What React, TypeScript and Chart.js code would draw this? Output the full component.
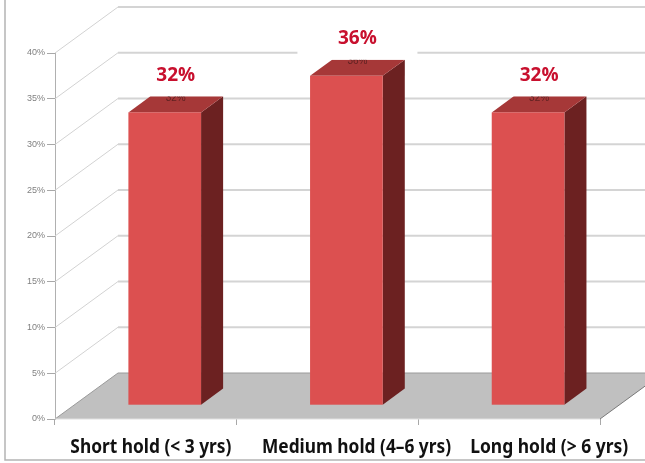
import React, { useEffect, useRef } from 'react';
import { Chart, registerables } from 'chart.js';

Chart.register(...registerables);

const categories = ['Short hold (< 3 yrs)', 'Medium hold (4–6 yrs)', 'Long hold (> 6 yrs)'];
const values = [32, 36, 32];
const valueLabels = ['32%', '36%', '32%'];
const yMin = 0;
const yMax = 40;
const yStep = 5;

// styling constants (3D oblique projection)
const DEPTH_X = 63;
const DEPTH_Y = 46;
const BAR_FRONT = 0.3;
const BAR_BACK = 0.65;
const LABEL_SHIFT = [5, 29, 40];
const LABEL_MAXW = [161, 189, 158];

const threeD = {
  id: 'threeD',
  beforeDatasetsDraw(chart: any) {
    const { ctx, chartArea, scales } = chart;
    const { left, right, bottom } = chartArea;
    const y = scales.y;
    ctx.save();
    // outer frame
    ctx.strokeStyle = '#b4b4b4';
    ctx.lineWidth = 1.5;
    ctx.beginPath();
    ctx.moveTo(5, 0);
    ctx.lineTo(5, 460);
    ctx.lineTo(chart.width, 460);
    ctx.stroke();
    // walls
    for (let v = yMin + yStep; v <= yMax; v += yStep) {
      const py = y.getPixelForValue(v);
      ctx.strokeStyle = '#d2d2d2';
      ctx.lineWidth = 1;
      ctx.beginPath();
      ctx.moveTo(left, py);
      ctx.lineTo(left + DEPTH_X, py - DEPTH_Y);
      ctx.stroke();
      ctx.lineWidth = 2;
      ctx.strokeStyle = '#d4d4d4';
      ctx.beginPath();
      ctx.moveTo(left + DEPTH_X, py - DEPTH_Y);
      ctx.lineTo(chart.width, py - DEPTH_Y);
      ctx.stroke();
    }
    // floor
    ctx.fillStyle = '#c0c0c0';
    ctx.beginPath();
    ctx.moveTo(left, bottom);
    ctx.lineTo(right, bottom);
    ctx.lineTo(right + DEPTH_X, bottom - DEPTH_Y);
    ctx.lineTo(left + DEPTH_X, bottom - DEPTH_Y);
    ctx.closePath();
    ctx.fill();
    ctx.strokeStyle = '#9a9a9a';
    ctx.lineWidth = 1;
    ctx.beginPath();
    ctx.moveTo(left, bottom);
    ctx.lineTo(left + DEPTH_X, bottom - DEPTH_Y);
    ctx.lineTo(chart.width, bottom - DEPTH_Y);
    ctx.stroke();
    ctx.strokeStyle = '#7a7a7a';
    ctx.beginPath();
    ctx.moveTo(right, bottom);
    ctx.lineTo(right + DEPTH_X, bottom - DEPTH_Y);
    ctx.stroke();
    ctx.strokeStyle = '#e0e0e0';
    ctx.beginPath();
    ctx.moveTo(left, bottom);
    ctx.lineTo(right, bottom);
    ctx.stroke();
    ctx.restore();
  },
  afterDatasetsDraw(chart: any) {
    const { ctx, chartArea } = chart;
    const meta = chart.getDatasetMeta(0);
    const fdx = DEPTH_X * BAR_FRONT;
    const fdy = DEPTH_Y * BAR_FRONT;
    const bdx = DEPTH_X * (BAR_BACK - BAR_FRONT);
    const bdy = DEPTH_Y * (BAR_BACK - BAR_FRONT);
    ctx.save();
    meta.data.forEach((el: any, i: number) => {
      const { x, y, base, width } = el.getProps(['x', 'y', 'base', 'width'], true);
      const x0 = x - width / 2 + fdx;
      const x1 = x + width / 2 + fdx;
      const top = y - fdy;
      const bot = base - fdy;
      // side
      ctx.fillStyle = '#6c2121';
      ctx.beginPath();
      ctx.moveTo(x1, top);
      ctx.lineTo(x1 + bdx, top - bdy);
      ctx.lineTo(x1 + bdx, bot - bdy);
      ctx.lineTo(x1, bot);
      ctx.closePath();
      ctx.fill();
      // top
      ctx.fillStyle = '#a63838';
      ctx.beginPath();
      ctx.moveTo(x0, top);
      ctx.lineTo(x1, top);
      ctx.lineTo(x1 + bdx, top - bdy);
      ctx.lineTo(x0 + bdx, top - bdy);
      ctx.closePath();
      ctx.fill();
      // front
      ctx.fillStyle = '#dc5050';
      ctx.fillRect(x0, top, x1 - x0, bot - top);

      const cx = x + (DEPTH_X * (BAR_FRONT + BAR_BACK)) / 2;
      const backTop = top - bdy;
      // faint original label, partly hidden
      ctx.font = '10px "Liberation Sans"';
      ctx.fillStyle = 'rgba(70,25,25,0.75)';
      ctx.textAlign = 'center';
      ctx.textBaseline = 'middle';
      ctx.fillText(valueLabels[i], cx, backTop + 2);
      // white label box
      ctx.fillStyle = '#ffffff';
      ctx.fillRect(cx - 60, backTop - 38, 120, 38);
      // value label
      ctx.font = 'bold 19px "Open Sans"';
      ctx.fillStyle = '#c8102e';
      ctx.fillText(valueLabels[i], cx, backTop - 21);
    });
    // category labels
    const xs = chart.scales.x;
    ctx.font = 'bold 19px "Noto Sans"';
    ctx.fillStyle = '#111111';
    ctx.textAlign = 'center';
    ctx.textBaseline = 'middle';
    categories.forEach((c, i) => {
      const px = xs.getPixelForValue(i) + LABEL_SHIFT[i];
      ctx.fillText(c, px, chartArea.bottom + 29, LABEL_MAXW[i]);
    });
    ctx.restore();
  },
};

export default function App() {
  const ref = useRef<HTMLCanvasElement | null>(null);
  useEffect(() => {
    document.body.style.margin = '0';
    if (!ref.current) return;
    const chart = new Chart(ref.current, {
      type: 'bar',
      data: {
        labels: categories,
        datasets: [
          {
            data: values,
            backgroundColor: 'rgba(0,0,0,0)',
            borderWidth: 0,
            barPercentage: 0.4,
            categoryPercentage: 1,
          },
        ],
      },
      options: {
        animation: false,
        responsive: false,
        devicePixelRatio: 1,
        layout: { padding: { left: 0, right: 45, top: 53, bottom: 0 } },
        plugins: { legend: { display: false }, tooltip: { enabled: false } },
        scales: {
          x: {
            afterFit: (s: any) => {
              s.height = 44;
            },
            grid: { offset: true, drawOnChartArea: false, tickLength: 6, color: '#a8a8a8' },
            ticks: { display: false },
            border: { display: false },
          },
          y: {
            min: yMin,
            max: yMax,
            afterFit: (s: any) => {
              s.width = 55;
            },
            ticks: {
              stepSize: yStep,
              padding: 2,
              color: '#808080',
              font: { size: 9, family: '"Liberation Sans", sans-serif' },
              callback: (v: any) => v + '%',
            },
            grid: { drawOnChartArea: false, tickLength: 8, color: '#a8a8a8' },
            border: { color: '#b0b0b0', width: 1 },
          },
        },
      },
      plugins: [threeD],
    });
    return () => chart.destroy();
  }, []);
  return (
    <div style={{ width: 645, height: 463 }}>
      <canvas ref={ref} width={645} height={463} style={{ display: 'block' }} />
    </div>
  );
}
